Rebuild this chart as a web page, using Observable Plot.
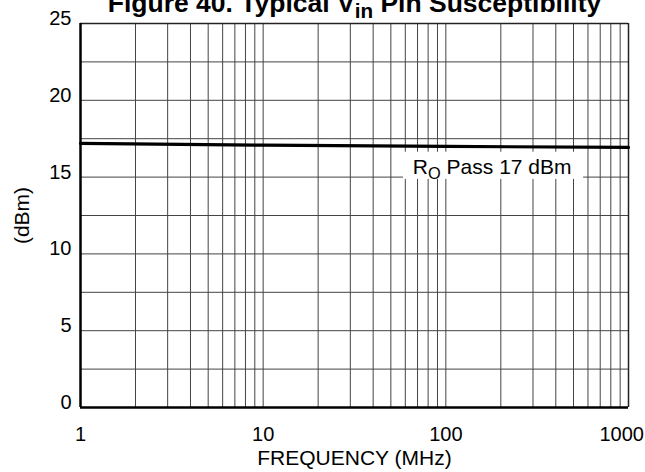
<!DOCTYPE html>
<html><head><meta charset="utf-8">
<script src="https://cdn.jsdelivr.net/npm/d3@7"></script>
<script src="https://cdn.jsdelivr.net/npm/@observablehq/plot@0.6"></script>
<style>html,body{margin:0;padding:0;background:#fff;overflow:hidden} svg{display:block}</style>
</head><body><div id="chart"></div>
<script>
// Data
const freqMHz = [1, 10, 100, 1000];
const powerDbm = [17.2, 17.08, 17.0, 16.93];
const xTickValues = [1, 10, 100, 1000];
const yTickValues = [0, 5, 10, 15, 20, 25];
const yGridValues = [0, 2.5, 5, 7.5, 10, 12.5, 15, 17.5, 20, 22.5, 25];
const xGridMultipliers = [1, 2, 3, 4, 5, 6, 7, 8, 9];
const xGridDecades = [1, 10, 100];
const titleParts = ["Figure 40. Typical V", "in", " Pin Susceptibility"];
const annotationParts = ["R", "O", " Pass 17 dBm"];
const annotationAt = {x: 66, y: 15.67};
const annotationBox = {x1: 58.6, x2: 568, y1: 14.85, y2: 16.62};
const xLabel = "FREQUENCY (MHz)";
const yLabel = "(dBm)";

const xGridValues = xGridDecades.flatMap(d => xGridMultipliers.map(m => m * d)).concat([1000]);
const lineData = freqMHz.map((f, i) => ({f, p: powerDbm[i]}));
const font = "'Liberation Sans', Arial, Helvetica, sans-serif";
const titleText = titleParts.join("");
const annText = annotationParts.join("");

const chart = Plot.plot({
  width: 645,
  height: 472,
  marginTop: 23,
  marginLeft: 80,
  marginRight: 17,
  marginBottom: 65,
  style: {fontFamily: font, fontSize: "20px", background: "#fff", color: "#000"},
  x: {type: "log", domain: [1, 1000], ticks: xTickValues, tickFormat: d => String(d), tickSize: 0, tickPadding: 19, label: null},
  y: {domain: [0, 25], ticks: yTickValues, tickSize: 0, tickPadding: 9, label: null},
  marks: [
    Plot.ruleY(yGridValues, {stroke: "#444", strokeWidth: 1}),
    Plot.ruleX(xGridValues, {stroke: "#444", strokeWidth: 1}),
    Plot.ruleY([25], {stroke: "#222", strokeWidth: 1.5}),
    Plot.ruleX([1000], {stroke: "#222", strokeWidth: 1.5}),
    Plot.ruleX([1], {stroke: "#000", strokeWidth: 2.5}),
    Plot.ruleY([0], {stroke: "#000", strokeWidth: 2.5}),
    Plot.line(lineData, {x: "f", y: "p", stroke: "#000", strokeWidth: 3.2}),
    Plot.rect([annotationBox], {x1: "x1", x2: "x2", y1: "y1", y2: "y2", fill: "#fff"}),
    Plot.text([annText], {x: annotationAt.x, y: annotationAt.y, text: d => d, textAnchor: "start", lineAnchor: "middle", fontSize: 21, fill: "#000"}),
    Plot.text([titleText], {frameAnchor: "top", dy: -30, text: d => d, fontSize: 26.5, fontWeight: "bold", fill: "#000"}),
    Plot.text([xLabel], {frameAnchor: "bottom", dy: 50.5, lineAnchor: "middle", text: d => d, fontSize: 21, fill: "#000"}),
    Plot.text([yLabel], {frameAnchor: "left", dx: -58, rotate: -90, textAnchor: "middle", lineAnchor: "middle", text: d => d, fontSize: 21, fill: "#000"})
  ]
});

// Subscripts via tspans
const svg = d3.select(chart);
function subscriptify(fullText, parts, shift) {
  svg.selectAll("text").filter(function() { return this.textContent === fullText; }).each(function() {
    const t = d3.select(this);
    t.text(null);
    t.append("tspan").text(parts[0]);
    t.append("tspan").attr("dy", shift).attr("font-size", "0.78em").text(parts[1]);
    t.append("tspan").attr("dy", -shift).text(parts[2]);
  });
}
subscriptify(titleText, titleParts, 6);
subscriptify(annText, annotationParts, 5);

document.getElementById("chart").appendChild(chart);

// nudge y tick labels up slightly, as in the reference
svg.selectAll("g[aria-label^='y-axis']").each(function() {
  const g = d3.select(this);
  if (g.selectAll("text").size() === 0) return;
  const tr = g.attr("transform") || "";
  g.attr("transform", (tr + " translate(0,-5)").trim());
});
// keep x tick labels inside the picture
svg.selectAll("g[aria-label^='x-axis'] text").each(function() {
  const b = this.getBoundingClientRect();
  if (b.right > 644) {
    const over = b.right - 644;
    const t = d3.select(this);
    t.attr("dx", -over);
  }
});
</script>
</body></html>
